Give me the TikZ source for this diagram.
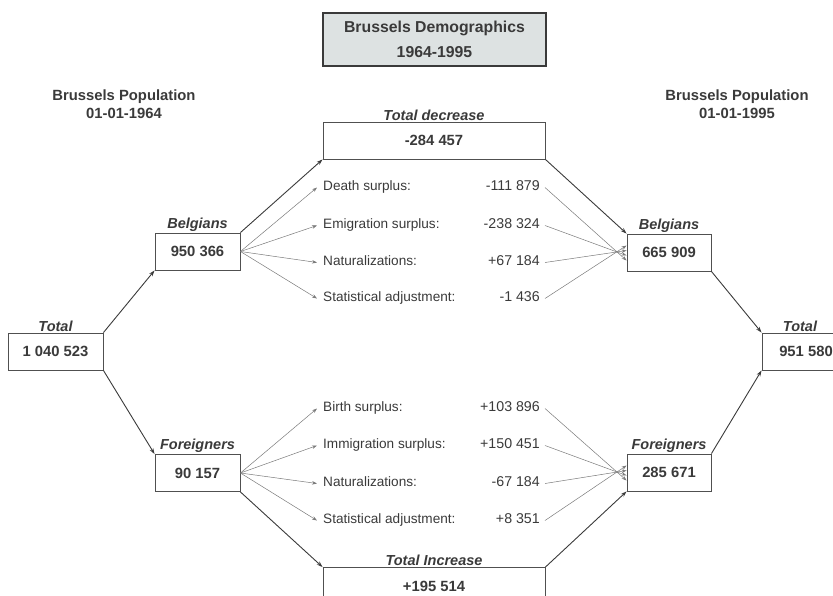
\documentclass[tikz,border=0pt]{standalone}
\usepackage{fontspec}
\setmainfont{Liberation Sans}
\usetikzlibrary{arrows.meta}
\definecolor{txt}{HTML}{3A3A3A}
\definecolor{boxline}{HTML}{505050}
\definecolor{titlefill}{HTML}{DDE2E2}
\definecolor{fanline}{HTML}{7A7A7A}
\begin{document}
\begin{tikzpicture}[x=1pt,y=-1pt,
  every node/.style={text=txt},
  popbox/.style={draw=boxline,line width=0.9pt,fill=white,minimum height=37pt,inner sep=0pt,font=\fontsize{14.8}{16}\selectfont\bfseries},
  boxcap/.style={font=\fontsize{14.5}{16}\selectfont\bfseries\itshape,inner sep=1pt,anchor=south},
  head/.style={font=\fontsize{14.8}{18}\selectfont\bfseries,align=center},
  flowlab/.style={font=\fontsize{13.6}{15}\selectfont,anchor=west,inner sep=0pt,text height=9.8pt,text depth=2.9pt},
  flowval/.style={font=\fontsize{14.2}{15}\selectfont,anchor=east,inner sep=0pt,text height=9.8pt,text depth=2.9pt},
  main/.style={draw=txt,line width=0.9pt,-{Stealth[length=6pt,width=4pt]}},
  fan/.style={draw=fanline,line width=0.5pt,-{Stealth[length=5pt,width=3.5pt]}}
]
\useasboundingbox (0,0) rectangle (833,595);

% title
\node[draw=txt,line width=2.2pt,fill=titlefill,minimum width=223pt,minimum height=53pt,align=center,
      font=\fontsize{15.8}{25}\selectfont\bfseries] (title) at (434.5,39.5) {Brussels Demographics\\1964-1995};

\node[head] (h1) at (124,104) {Brussels Population\\01-01-1964};
\node[head] (h2) at (737,104) {Brussels Population\\01-01-1995};

% population boxes
\node[popbox,minimum width=95pt] (tl) at (55.5,351.5) {1 040 523};
\node[popbox,minimum width=85pt] (bl) at (197.5,251.5) {950 366};
\node[popbox,minimum width=85pt] (fl) at (197.5,473) {90 157};
\node[popbox,minimum width=222pt] (td) at (434,140.5) {-284 457};
\node[popbox,minimum width=222pt] (ti) at (434,586) {+195 514};
\node[popbox,minimum width=84pt] (br) at (669,252.5) {665 909};
\node[popbox,minimum width=84pt] (fr) at (669,472.5) {285 671};
\node[popbox,minimum width=88pt] (tr) at (806,351.5) {951 580};

% captions
\node[boxcap] (ctl) at (tl.north) {Total};
\node[boxcap] (cbl) at (bl.north) {Belgians};
\node[boxcap] (cfl) at (fl.north) {Foreigners};
\node[boxcap] (ctd) at (td.north) {Total decrease};
\node[boxcap] (cti) at (ti.north) {Total Increase};
\node[boxcap] (cbr) at (br.north) {Belgians};
\node[boxcap] (cfr) at (fr.north) {Foreigners};
\node[boxcap] (ctr) at ([xshift=-6pt]tr.north) {Total};

% Belgian flows
\node[flowlab] (l1) at (323,187.5) {Death surplus:};
\node[flowlab] (l2) at (323,225.5) {Emigration surplus:};
\node[flowlab] (l3) at (323,262.5) {Naturalizations:};
\node[flowlab] (l4) at (323,298.5) {Statistical adjustment:};
\node[flowval] (v1) at (540,187.5) {-111 879};
\node[flowval] (v2) at (540,225.5) {-238 324};
\node[flowval] (v3) at (540,262.5) {+67 184};
\node[flowval] (v4) at (540,298.5) {-1 436};

% Foreigner flows
\node[flowlab] (m1) at (323,408.5) {Birth surplus:};
\node[flowlab] (m2) at (323,445.5) {Immigration surplus:};
\node[flowlab] (m3) at (323,483.5) {Naturalizations:};
\node[flowlab] (m4) at (323,520.5) {Statistical adjustment:};
\node[flowval] (w1) at (540,408.5) {+103 896};
\node[flowval] (w2) at (540,445.5) {+150 451};
\node[flowval] (w3) at (540,483.5) {-67 184};
\node[flowval] (w4) at (540,520.5) {+8 351};

% main arrows
\draw[main] (tl.north east) -- (bl.south west);
\draw[main] (tl.south east) -- (fl.north west);
\draw[main] (bl.north east) -- (td.south west);
\draw[main] (fl.south east) -- (ti.north west);
\draw[main] (td.south east) -- (br.north west);
\draw[main] (ti.north east) -- (fr.south west);
\draw[main] (br.south east) -- (tr.north west);
\draw[main] (fr.north east) -- (tr.south west);

% fan arrows
\foreach \n in {l1,l2,l3,l4} \draw[fan] (bl.east) -- ([xshift=-6pt]\n.west);
\foreach \n in {m1,m2,m3,m4} \draw[fan] (fl.east) -- ([xshift=-6pt]\n.west);
\draw[fan] ([xshift=5pt]v1.east) -- ([yshift=-8pt]br.west);
\draw[fan] ([xshift=5pt]v2.east) -- ([yshift=-3pt]br.west);
\draw[fan] ([xshift=5pt]v3.east) -- ([yshift=2pt]br.west);
\draw[fan] ([xshift=5pt]v4.east) -- ([yshift=7pt]br.west);
\draw[fan] ([xshift=5pt]w1.east) -- ([yshift=-8pt]fr.west);
\draw[fan] ([xshift=5pt]w2.east) -- ([yshift=-3pt]fr.west);
\draw[fan] ([xshift=5pt]w3.east) -- ([yshift=2pt]fr.west);
\draw[fan] ([xshift=5pt]w4.east) -- ([yshift=7pt]fr.west);
\end{tikzpicture}
\end{document}
